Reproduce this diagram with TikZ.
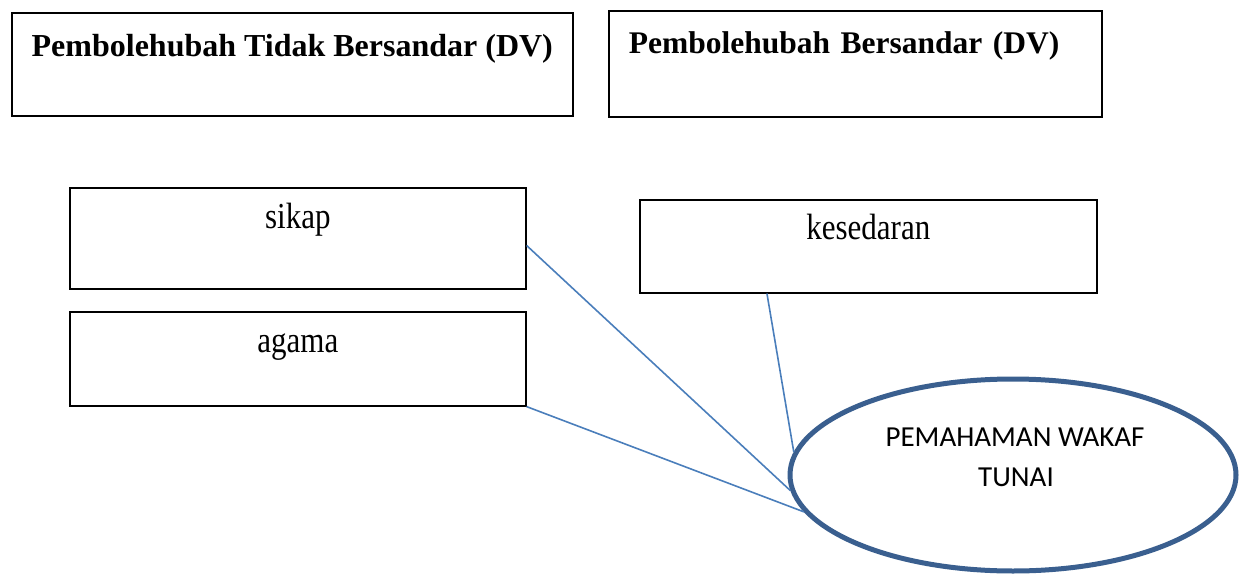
\documentclass[tikz,border=0pt]{standalone}
\usepackage{graphicx}
\usepackage{fontspec}
\setmainfont{Liberation Serif}
\newfontfamily\ovalfont{Carlito}
\usetikzlibrary{shapes.geometric,calc}
\definecolor{linkblue}{HTML}{4A7EBB}
\definecolor{ovalblue}{HTML}{3A5F8F}
% plain labels are set a little taller than wide
\newcommand{\tallset}[1]{\scalebox{1}[1.18]{#1}}

\begin{document}
\begin{tikzpicture}[x=1pt,y=-1pt,
  box/.style={draw=black,line width=1.6pt,inner sep=0pt,anchor=north west,
    font=\fontsize{31}{36}\selectfont},
  headbox/.style={box,font=\fontsize{32}{38}\selectfont\bfseries},
  link/.style={draw=linkblue,line width=1.6pt},
  oval/.style={ellipse,draw=ovalblue,line width=5pt,inner sep=0pt,
    minimum width=446pt,minimum height=192pt},
  ovaltext/.style={font=\ovalfont\fontsize{29}{40}\selectfont,inner sep=0pt,anchor=base}]
\useasboundingbox (0,0) rectangle (1239,575);

% column headings
\node[headbox,minimum width=561pt,text height=43.7pt,text depth=59.3pt]
  (indep) at (11,12) {Pembolehubah Tidak Bersandar (DV)};
\node[headbox,font=\fontsize{31.5}{38}\selectfont\bfseries,
  inner xsep=20pt,text width=453pt,align=left,
  text height=42.7pt,text depth=63.3pt]
  (dep) at (608,10) {Pembolehubah Bersandar (DV)};

% variable boxes
\node[box,minimum width=456pt,text height=41pt,text depth=60pt]
  (sikap) at (69,187) {\tallset{sikap}};
\node[box,minimum width=456pt,text height=41pt,text depth=53pt]
  (agama) at (69,311) {\tallset{agama}};
\node[box,minimum width=457pt,text height=40pt,text depth=53pt]
  (kes) at (639,199) {\tallset{kesedaran}};

% central concept
\node[oval] (wakaf) at (1013,475) {};
\node[ovaltext] (wakaf1) at (1015,446) {PEMAHAMAN WAKAF};
\node[ovaltext] (wakaf2) at (1016,486) {TUNAI};

% connectors
\coordinate (s1) at ($(sikap.north east)!0.57!(sikap.south east)$);
\coordinate (k1) at ($(kes.south west)!0.279!(kes.south east)$);
\draw[link] (s1) -- (wakaf.184.6);
\draw[link] (agama.south east) -- (wakaf.190.8);
\draw[link] (k1) -- (wakaf.174.2);
\end{tikzpicture}
\end{document}
